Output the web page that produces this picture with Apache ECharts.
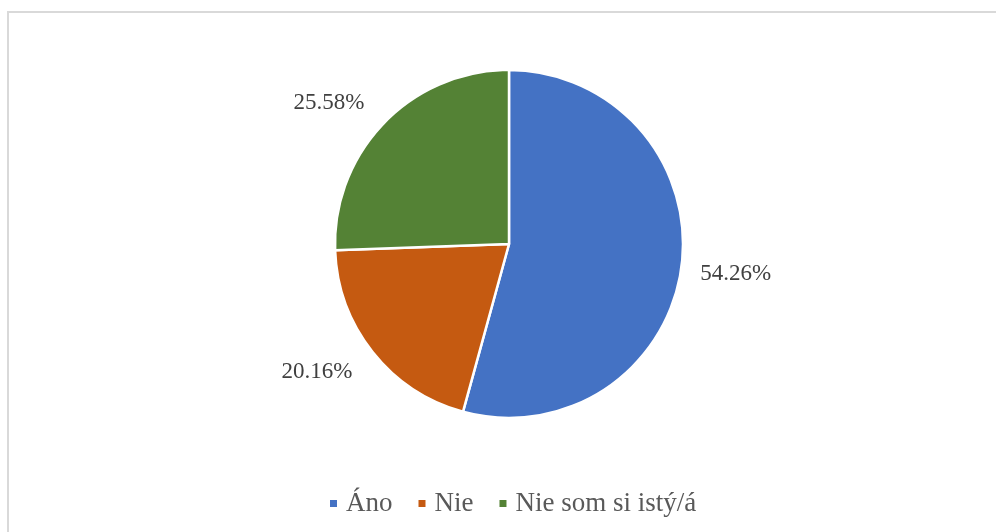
<!DOCTYPE html>
<html>
<head>
<meta charset="utf-8">
<script src="https://cdn.jsdelivr.net/npm/echarts@6/dist/echarts.min.js"></script>
<style>
  html, body { margin: 0; padding: 0; background: #fff; }
  #chart { width: 996px; height: 532px; }
</style>
</head>
<body>
<div id="chart"></div>
<script>
var categories = ['Áno', 'Nie', 'Nie som si istý/á'];
var values = [54.26, 20.16, 25.58];
var colors = ['#4472C4', '#C55A11', '#548235'];
// label line lengths per slice (no line drawn, just positions the text)
var labelLen = [[8, 10], [22, 4], [24, 4]];
// small nudges so labels sit where they do in the original
var labelShift = [[-4, 6], [6, 6], [7, -4]];

var chart = echarts.init(document.getElementById('chart'));

var pieData = categories.map(function (name, i) {
    return {
        name: name,
        value: values[i],
        itemStyle: { color: colors[i] },
        labelLine: { show: false, length: labelLen[i][0], length2: labelLen[i][1] }
    };
});

chart.setOption({
    animation: false,
    graphic: [{
        type: 'rect',
        shape: { x: 8, y: 12, width: 1000, height: 600 },
        style: { fill: 'none', stroke: '#d9d9d9', lineWidth: 2 },
        silent: true
    }],
    legend: {
        data: categories,
        left: 323,
        top: 485,
        icon: 'rect',
        itemWidth: 9,
        itemHeight: 9,
        itemGap: 24,
        textStyle: {
            fontFamily: 'Liberation Serif',
            fontSize: 27,
            color: '#595959',
            padding: [0, 0, 0, 3]
        }
    },
    series: [{
        type: 'pie',
        center: [509, 244],
        radius: [0, 174],
        startAngle: 90,
        clockwise: true,
        avoidLabelOverlap: false,
        itemStyle: { borderColor: '#fff', borderWidth: 2.5 },
        label: {
            show: true,
            position: 'outside',
            formatter: function (p) { return p.value.toFixed(2) + '%'; },
            fontFamily: 'Liberation Serif',
            fontSize: 23,
            color: '#404040'
        },
        labelLayout: function (p) {
            var s = labelShift[p.dataIndex];
            return { dx: s[0], dy: s[1] };
        },
        emphasis: { disabled: true },
        data: pieData
    }]
});
</script>
</body>
</html>
